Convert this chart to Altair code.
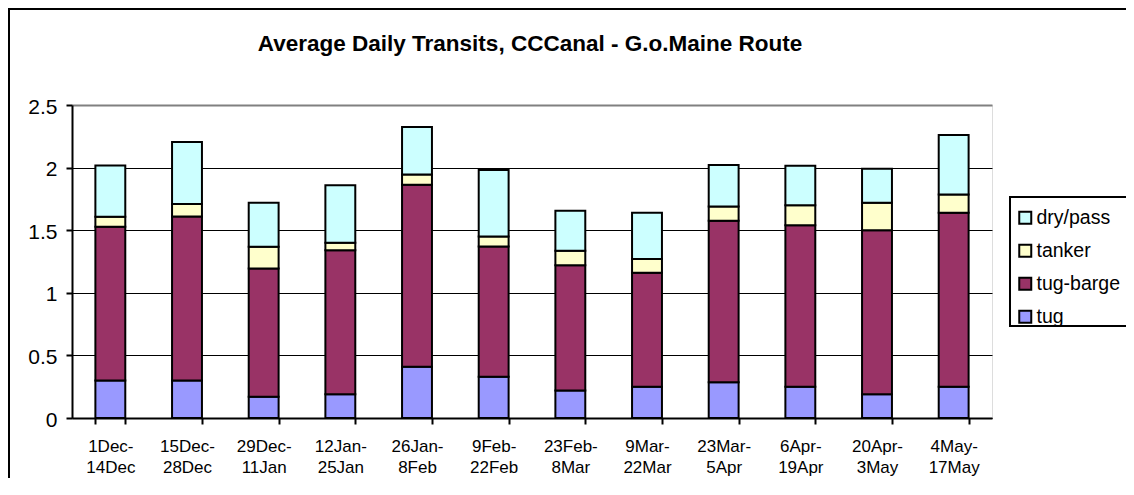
import altair as alt
import pandas as pd

title_text = "Average Daily Transits, CCCanal - G.o.Maine Route"
categories = ["1Dec-14Dec", "15Dec-28Dec", "29Dec-11Jan", "12Jan-25Jan", "26Jan-8Feb",
              "9Feb-22Feb", "23Feb-8Mar", "9Mar-22Mar", "23Mar-5Apr", "6Apr-19Apr",
              "20Apr-3May", "4May-17May"]
series = ["dry/pass", "tanker", "tug-barge", "tug"]
colors = ["#CCFFFF", "#FFFFCC", "#993366", "#9999FF"]

tug = [0.30, 0.30, 0.17, 0.19, 0.41, 0.33, 0.22, 0.25, 0.285, 0.25, 0.19, 0.25]
tug_barge = [1.227, 1.31, 1.024, 1.15, 1.454, 1.04, 1.0, 0.91, 1.29, 1.29, 1.31, 1.39]
tanker = [0.08, 0.10, 0.173, 0.06, 0.08, 0.08, 0.115, 0.11, 0.115, 0.16, 0.22, 0.145]
dry_pass = [0.41, 0.495, 0.353, 0.46, 0.38, 0.53, 0.32, 0.37, 0.33, 0.315, 0.27, 0.475]

rows = []
for i, c in enumerate(categories):
    for name, vals, order in [("tug", tug, 0), ("tug-barge", tug_barge, 1),
                              ("tanker", tanker, 2), ("dry/pass", dry_pass, 3)]:
        rows.append({"period": c, "type": name, "value": vals[i], "order": order})
df = pd.DataFrame(rows)

FONT = "Liberation Sans"

bars = alt.Chart(df).mark_bar(stroke="black", strokeWidth=2).encode(
    x=alt.X("period:N", sort=categories,
            scale=alt.Scale(paddingInner=0.61, paddingOuter=0.305),
            axis=alt.Axis(title=None, labelAngle=0,
                          labelExpr="indexof(datum.label, '-') >= 0 ? [split(datum.label, '-')[0] + '-', split(datum.label, '-')[1]] : ''",
                          labelFontSize=17, labelLineHeight=21.5, tickBand="extent",
                          tickSize=6, tickWidth=2, domainWidth=2, domainColor="black",
                          tickColor="black", labelPadding=14, labelColor="black",
                          labelFont=FONT, grid=False, labelOverlap=False)),
    y=alt.Y("value:Q", stack="zero",
            scale=alt.Scale(domain=[0, 2.5], nice=False),
            axis=alt.Axis(title=None, values=[0, 0.5, 1, 1.5, 2, 2.5], format="~g",
                          labelFontSize=21, labelFont=FONT, labelColor="black",
                          labelPadding=9, tickSize=6, tickWidth=2, tickColor="black",
                          domainWidth=2, domainColor="black", labelOffset=2,
                          grid=True,
                          gridColor=alt.condition("datum.value == 2.5", alt.value("#808080"), alt.value("black")),
                          gridWidth=alt.condition("datum.value == 2.5", alt.value(2), alt.value(1)))),
    color=alt.Color("type:N", scale=alt.Scale(domain=series, range=colors),
                    legend=alt.Legend(title=None, orient="none", legendX=943.5, legendY=103,
                                      symbolType="square", symbolSize=144,
                                      symbolStrokeColor="black", symbolStrokeWidth=2,
                                      symbolOpacity=1, labelFontSize=19.5, labelFont=FONT,
                                      labelColor="black", labelOffset=1.5, rowPadding=12,
                                      padding=0)),
    order=alt.Order("order:Q", sort="ascending"),
)

title = alt.Chart(pd.DataFrame({"t": [title_text]})).mark_text(
    font=FONT, fontSize=22.5, fontWeight="bold", color="black",
    align="center", baseline="alphabetic"
).encode(text="t:N", x=alt.value(458), y=alt.value(-54))

one = pd.DataFrame({"a": [0]})
rule = dict(color="black", strokeWidth=2)
border_left = alt.Chart(one).mark_rule(**rule).encode(x=alt.value(-63), y=alt.value(-96), y2=alt.value(420))
border_top = alt.Chart(one).mark_rule(**rule).encode(x=alt.value(-64), x2=alt.value(1070), y=alt.value(-96))
leg_left = alt.Chart(one).mark_rule(**rule).encode(x=alt.value(938), y=alt.value(92), y2=alt.value(221))
leg_top = alt.Chart(one).mark_rule(**rule).encode(x=alt.value(937), x2=alt.value(1070), y=alt.value(92))
leg_bottom = alt.Chart(one).mark_rule(**rule).encode(x=alt.value(937), x2=alt.value(1070), y=alt.value(221))

chart = alt.layer(bars, title, border_left, border_top, leg_left, leg_top, leg_bottom).properties(
    width=920, height=313,
    autosize=alt.AutoSizeParams(type="none"),
    padding={"left": 64, "top": 97, "right": 134, "bottom": 60},
).configure_view(fill="#C0C0C0", stroke="#808080", strokeWidth=2
).configure(background="white")

chart.save("out.html", embed_options={"renderer": "svg", "actions": False})
